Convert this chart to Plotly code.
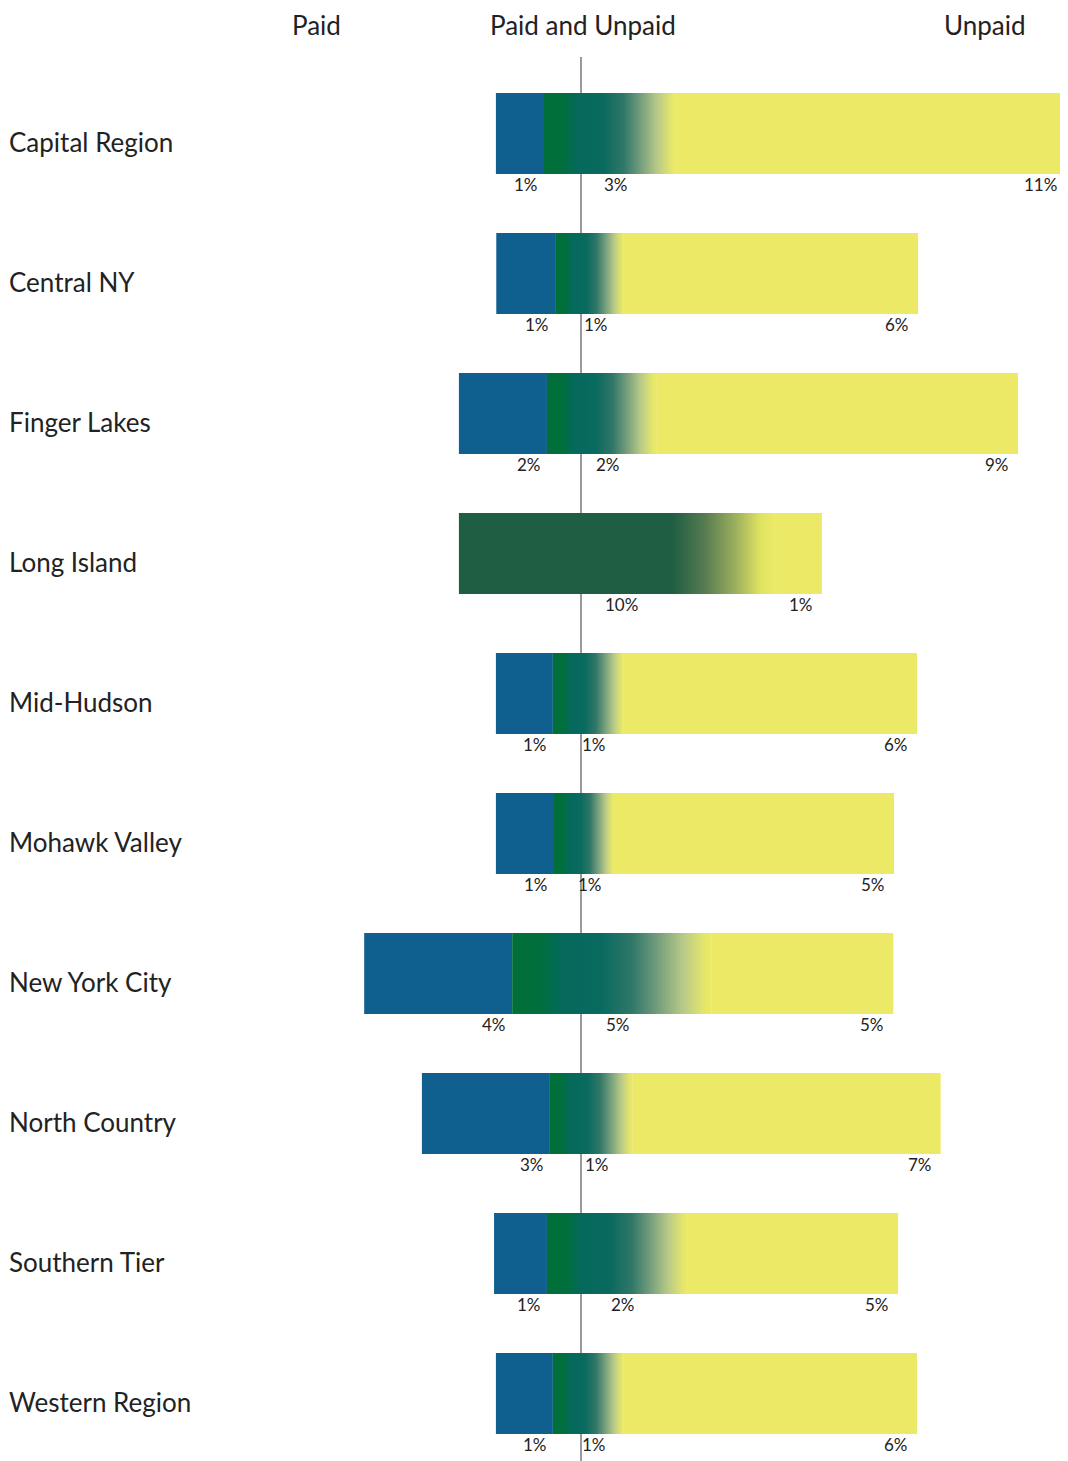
import plotly.graph_objects as go

# ---------------- data ----------------
regions = ["Capital Region", "Central NY", "Finger Lakes", "Long Island", "Mid-Hudson",
           "Mohawk Valley", "New York City", "North Country", "Southern Tier", "Western Region"]
# bar lengths as drawn (percentage-point scale)
paid_len = [1.30, 1.59, 2.38, 0.00, 1.54, 1.57, 4.00, 3.46, 1.43, 1.54]
both_len = [3.57, 1.86, 2.95, 8.49, 1.92, 1.62, 5.38, 2.24, 3.81, 1.92]
unpaid_len = [10.55, 7.95, 9.78, 1.32, 7.92, 7.57, 4.92, 8.32, 5.68, 7.92]
# part of the "Paid and Unpaid" bar lying left of the centre line
both_left = [1.00, 0.70, 0.92, 3.30, 0.76, 0.73, 1.86, 0.84, 0.92, 0.76]
# printed labels
paid_lbl = ["1%", "1%", "2%", "", "1%", "1%", "4%", "3%", "1%", "1%"]
both_lbl = ["3%", "1%", "2%", "10%", "1%", "1%", "5%", "1%", "2%", "1%"]
unpaid_lbl = ["11%", "6%", "9%", "1%", "6%", "5%", "5%", "7%", "5%", "6%"]
headers = ["Paid", "Paid and Unpaid", "Unpaid"]

# ---------------- styles / layout ----------------
BLUE = "#0f608e"
YELLOW = "#ebe966"
TXT = "#222222"
FONT = "Lato"
PAGE = 8                      # default body margin of the html page
W, H = 1068 - PAGE, 1461 - PAGE
ROW_PX = 140.0                # spacing between rows
FIRST_PX = 133.4 - PAGE       # centre of first row (figure px)
BAR_W = 81 / ROW_PX
PX_PER_UNIT = 37.0
ZERO_PX = 581 - PAGE
T, B = 57 - PAGE, 8
plot_top, plot_bot = T, H - B
plot_h = plot_bot - plot_top
y_top = (plot_top - FIRST_PX) / ROW_PX
y_bot = (plot_bot - FIRST_PX) / ROW_PX

normal_scale = [[0.0, "#007038"], [0.14, "#006f3c"], [0.25, "#05695c"], [0.45, "#0a6a5f"],
                [0.6, "#2f7768"], [0.72, "#6e9a7b"], [0.86, "#b9ca88"], [0.97, "#e6e76a"],
                [1.0, YELLOW]]
li_scale = [[0.0, "#1f5e43"], [0.68, "#1f5e43"], [0.78, "#557a50"], [0.88, "#9caf5e"],
            [0.96, "#e0e262"], [1.0, YELLOW]]

n = len(regions)
idx = list(range(n))
paid_base = [-(bl + p) for bl, p in zip(both_left, paid_len)]
both_start = [-bl for bl in both_left]
both_end = [-bl + b for bl, b in zip(both_left, both_len)]

fig = go.Figure()

# Paid (blue)
fig.add_trace(go.Bar(
    y=idx, x=paid_len, base=paid_base, orientation="h", width=BAR_W,
    marker=dict(color=BLUE, line=dict(width=0)), hoverinfo="skip", showlegend=False))

# Unpaid (yellow)
fig.add_trace(go.Bar(
    y=idx, x=unpaid_len, base=both_end, orientation="h", width=BAR_W,
    marker=dict(color=YELLOW, line=dict(width=0)), hoverinfo="skip", showlegend=False))

# Paid and Unpaid (gradient) - one filled polygon per row
for i in idx:
    x0, x1 = both_start[i], both_end[i]
    y0, y1 = i - BAR_W / 2, i + BAR_W / 2
    cs = li_scale if regions[i] == "Long Island" else normal_scale
    fig.add_trace(go.Scatter(
        x=[x0, x1, x1, x0, x0], y=[y0, y0, y1, y1, y0],
        mode="lines", line=dict(width=0), fill="toself",
        fillgradient=dict(type="horizontal", colorscale=cs, start=x0, stop=x1),
        hoverinfo="skip", showlegend=False))

annotations = []
# row labels
for i, r in enumerate(regions):
    annotations.append(dict(x=0, xref="paper", y=i, yref="y", text=r, showarrow=False,
                            xanchor="left", yanchor="middle", xshift=0, yshift=-9,
                            borderpad=0,
                            font=dict(family=FONT, size=26, color=TXT)))
# value labels
lbl_font = dict(family=FONT, size=17, color=TXT)
for i in idx:
    yb = i + BAR_W / 2
    if paid_lbl[i]:
        annotations.append(dict(x=both_start[i], y=yb, text=paid_lbl[i], showarrow=False,
                                xanchor="right", yanchor="middle", xshift=-4, yshift=-11,
                                font=lbl_font))
    annotations.append(dict(x=(both_start[i] + both_end[i]) / 2, y=yb, text=both_lbl[i],
                            showarrow=False, xanchor="center", yanchor="middle", xshift=6,
                            yshift=-11, font=lbl_font))
    annotations.append(dict(x=both_end[i] + unpaid_len[i], y=yb, text=unpaid_lbl[i],
                            showarrow=False, xanchor="right", yanchor="middle", xshift=-7,
                            yshift=-11, font=lbl_font))

# column headers
hdr_px = [316 - PAGE, 583 - PAGE, 985 - PAGE]
for h, px in zip(headers, hdr_px):
    annotations.append(dict(x=px / W, xref="paper", y=(plot_bot - 17) / plot_h,
                            yref="paper", text=h, showarrow=False, xanchor="center",
                            yanchor="middle", font=dict(family=FONT, size=26, color=TXT)))

fig.update_layout(
    width=W, height=H,
    margin=dict(l=0, r=0, t=T, b=B, pad=0),
    paper_bgcolor="white", plot_bgcolor="white",
    barmode="overlay",
    xaxis=dict(range=[-ZERO_PX / PX_PER_UNIT, (W - ZERO_PX) / PX_PER_UNIT],
               visible=False, showgrid=False, zeroline=False),
    yaxis=dict(range=[y_bot, y_top], visible=False, showgrid=False, zeroline=False),
    annotations=annotations,
    shapes=[dict(type="line", xref="x", yref="paper", x0=0, x1=0,
                 y0=-B / plot_h, y1=1.0,
                 line=dict(color="#9a9a9a", width=2), layer="below")],
    showlegend=False,
)

fig.write_html("out.html")
